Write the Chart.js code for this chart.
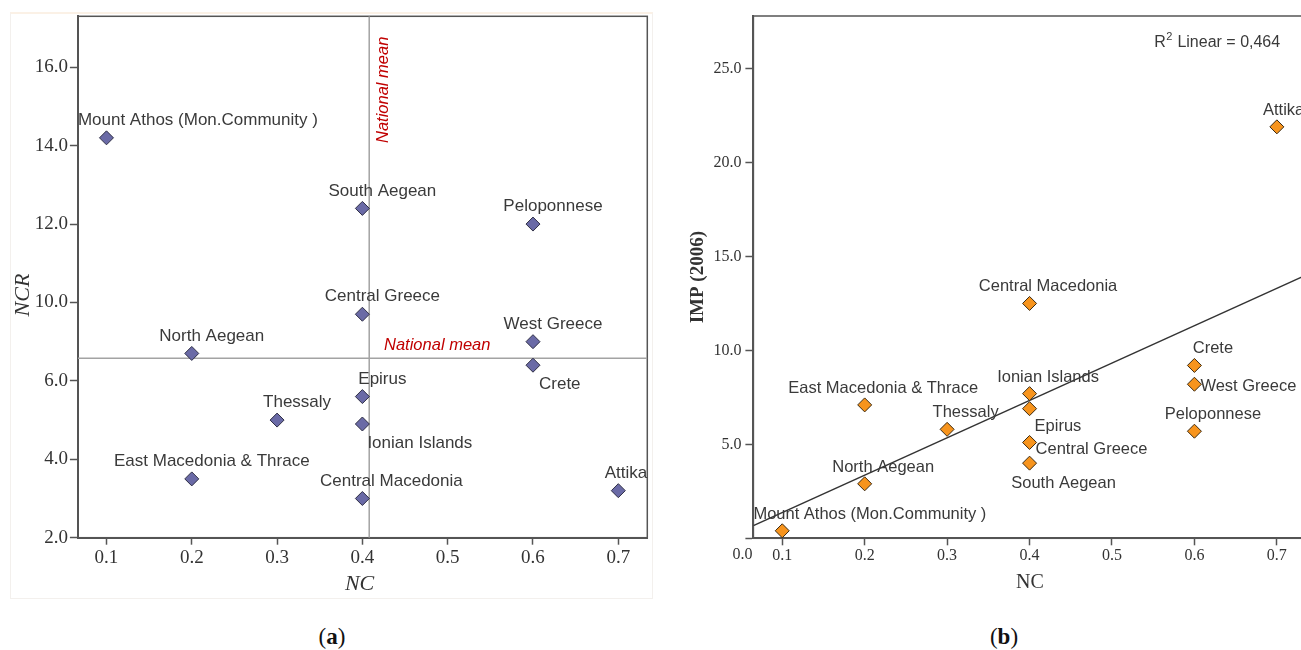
<!DOCTYPE html>
<html>
<head>
<meta charset="utf-8">
<script src="https://cdn.jsdelivr.net/npm/chart.js@4.4.1/dist/chart.umd.min.js"></script>
<style>
html, body { margin: 0; padding: 0; width: 1301px; height: 650px; overflow: hidden; background: #fff; }
#panelA { position: absolute; left: 10px; top: 12px; width: 641px; height: 584px; border: 1px solid #f3f0ed; border-top: 2px solid #fbf1e6; background: #fff; }
#chartA { position: absolute; left: 0; top: 0; }
#chartB { position: absolute; left: 680px; top: 0; }
.cap { position: absolute; top: 624px; font-family: 'Liberation Serif', 'Times New Roman', serif; font-size: 23px; color: #111; transform: translateX(-50%); }
</style>
</head>
<body>
<div id="panelA"></div>
<canvas id="chartA" width="660" height="600"></canvas>
<canvas id="chartB" width="640" height="600"></canvas>
<div class="cap" style="left:332px">(<b>a</b>)</div>
<div class="cap" style="left:1004px">(<b>b</b>)</div>
<script>
// regions, same order in both panels
var regions = ['Mount Athos (Mon.Community )', 'South Aegean', 'Peloponnese', 'Central Greece', 'West Greece',
    'North Aegean', 'Crete', 'Epirus', 'Thessaly', 'Ionian Islands', 'East Macedonia & Thrace',
    'Central Macedonia', 'Attika'];
var nc = [0.1, 0.4, 0.6, 0.4, 0.6, 0.2, 0.6, 0.4, 0.3, 0.4, 0.2, 0.4, 0.7];
// panel (a) NCR, in axis units (the printed axis jumps from 6.0 to 10.0, see yLabelsA)
var ncr = [12.2, 10.4, 10.0, 7.7, 7.0, 6.7, 6.4, 5.6, 5.0, 4.9, 3.5, 3.0, 3.2];
// panel (b) IMP (2006)
var imp = [0.4, 4.0, 5.7, 5.1, 8.2, 2.9, 9.2, 6.9, 5.8, 7.7, 7.1, 12.5, 21.9];
var ncMean = 0.408;
var ncrMean = 6.58;

var xTicks = [0.1, 0.2, 0.3, 0.4, 0.5, 0.6, 0.7];
var yTicksA = [2, 4, 6, 8, 10, 12, 14];
var yLabelsA = ['2.0', '4.0', '6.0', '10.0', '12.0', '14.0', '16.0'];
var yTicksB = [0, 5, 10, 15, 20, 25];

var SANS = "'Liberation Sans', Arial, sans-serif";
var SERIF = "'Liberation Serif', 'Times New Roman', serif";
var AXIS = '#555';

// least squares line for panel (b)
function fit(xs, ys) {
    var n = xs.length, mx = 0, my = 0, sxx = 0, sxy = 0, syy = 0;
    for (var i = 0; i < n; i++) { mx += xs[i] / n; my += ys[i] / n; }
    for (var j = 0; j < n; j++) {
        sxx += (xs[j] - mx) * (xs[j] - mx);
        sxy += (xs[j] - mx) * (ys[j] - my);
        syy += (ys[j] - my) * (ys[j] - my);
    }
    var b = sxy / sxx;
    return { a: my - b * mx, b: b, r2: sxy * sxy / (sxx * syy) };
}

function pairs(xs, ys) {
    return xs.map(function (x, i) { return { x: x, y: ys[i] }; });
}

// label placement: centred above-right of the point unless overridden
function drawLabels(chart, font, base, special) {
    var ctx = chart.ctx, area = chart.chartArea;
    var pts = chart.getDatasetMeta(0).data;
    ctx.save();
    ctx.font = font;
    ctx.fillStyle = '#3a3a3a';
    ctx.textBaseline = 'middle';
    ctx.textAlign = 'left';
    regions.forEach(function (name, i) {
        var o = Object.assign({}, base, special[name] || {});
        var w = ctx.measureText(name).width;
        var left = o.align === 'left' ? pts[i].x + o.dx : pts[i].x + o.dx - w / 2;
        left = Math.max(area.left, Math.min(area.right - w, left));
        ctx.fillText(name, left, pts[i].y + o.dy);
    });
    ctx.restore();
}

function frame(chart) {
    var ctx = chart.ctx, a = chart.chartArea;
    ctx.save();
    ctx.strokeStyle = AXIS;
    ctx.lineWidth = 1.5;
    ctx.strokeRect(a.left, a.top, a.right - a.left, a.bottom - a.top);
    ctx.restore();
}

function text(ctx, str, x, y, font, color, rot) {
    ctx.save();
    ctx.translate(x, y);
    if (rot) ctx.rotate(rot);
    ctx.font = font;
    ctx.fillStyle = color;
    ctx.textAlign = 'center';
    ctx.textBaseline = 'middle';
    ctx.fillText(str, 0, 0);
    ctx.restore();
}

function xScale(min, max, h, tickFont, pad) {
    return {
        type: 'linear', min: min, max: max,
        afterBuildTicks: function (s) { s.ticks = xTicks.map(function (v) { return { value: v }; }); },
        afterFit: function (s) { s.height = h; },
        grid: { drawOnChartArea: false, drawTicks: true, tickLength: 7, tickColor: AXIS, tickWidth: 1.5 },
        border: { color: AXIS, width: 2 },
        ticks: { padding: pad, color: '#333', autoSkip: false, maxRotation: 0, font: { family: SERIF, size: tickFont },
            callback: function (v) { return v.toFixed(1); } }
    };
}

// ---------- panel (a) ----------
var xMinA = 0.0665, xMaxA = 0.734, yMinA = 2, yMaxA = 15.3;

new Chart(document.getElementById('chartA'), {
    type: 'scatter',
    data: {
        datasets: [{
            data: pairs(nc, ncr),
            pointStyle: 'rectRot', pointRadius: 7, pointHoverRadius: 7,
            backgroundColor: '#6a6aa6', borderColor: '#2f2f45', borderWidth: 1, order: 0
        }, {
            data: [{ x: xMinA, y: ncrMean }, { x: xMaxA, y: ncrMean }],
            showLine: true, pointRadius: 0, borderColor: '#a3a3a3', borderWidth: 1.5, order: 1
        }, {
            data: [{ x: ncMean, y: yMinA }, { x: ncMean, y: yMaxA }],
            showLine: true, pointRadius: 0, borderColor: '#a3a3a3', borderWidth: 1.5, order: 1
        }]
    },
    options: {
        responsive: false, animation: false, devicePixelRatio: 1,
        layout: { padding: { left: 0, top: 16.3, right: 12.7, bottom: 0 } },
        plugins: { legend: { display: false }, tooltip: { enabled: false } },
        scales: {
            x: xScale(xMinA, xMaxA, 62.3, 19, 2),
            y: {
                type: 'linear', min: yMinA, max: yMaxA,
                afterBuildTicks: function (s) { s.ticks = yTicksA.map(function (v) { return { value: v }; }); },
                afterFit: function (s) { s.width = 77.9; },
                grid: { drawOnChartArea: false, drawTicks: true, tickLength: 8, tickColor: AXIS, tickWidth: 1.5 },
                border: { color: AXIS, width: 2 },
                ticks: { padding: 2, color: '#333', font: { family: SERIF, size: 19 },
                    callback: function (v, i) { return yLabelsA[i]; } }
            }
        }
    },
    plugins: [{
        id: 'extrasA',
        beforeDatasetsDraw: function (chart) { frame(chart); },
        afterDatasetsDraw: function (chart) {
            drawLabels(chart, '17px ' + SANS, { dx: 20, dy: -17.5, align: 'center' }, {
                'Crete': { dx: 6, dy: 19, align: 'left' },
                'Ionian Islands': { dx: 5, dy: 19, align: 'left' },
                'Central Macedonia': { dx: 29 }
            });
            var ctx = chart.ctx, a = chart.chartArea;
            var vx = chart.scales.x.getPixelForValue(ncMean);
            var hy = chart.scales.y.getPixelForValue(ncrMean);
            var red = 'italic 16.5px ' + SANS;
            text(ctx, 'National mean', vx + 68, hy - 13, red, '#c00000');
            text(ctx, 'National mean', vx + 14, a.top + 73.5, red, '#c00000', -Math.PI / 2);
            text(ctx, 'NC', (a.left + a.right) / 2 - 3, a.bottom + 47, 'italic 22px ' + SERIF, '#333');
            text(ctx, 'NCR', 23, (a.top + a.bottom) / 2 + 18, 'italic 22px ' + SERIF, '#333', -Math.PI / 2);
        }
    }]
});

// ---------- panel (b) ----------
var xMinB = 0.065, xMaxB = 0.7333, yMinB = 0, yMaxB = 27.8;
var line = fit(nc, imp);

new Chart(document.getElementById('chartB'), {
    type: 'scatter',
    data: {
        datasets: [{
            data: pairs(nc, imp),
            pointStyle: 'rectRot', pointRadius: 7, pointHoverRadius: 7,
            backgroundColor: '#f7941d', borderColor: '#3b2a12', borderWidth: 1, order: 0
        }, {
            data: [{ x: xMinB, y: line.a + line.b * xMinB }, { x: xMaxB, y: line.a + line.b * xMaxB }],
            showLine: true, pointRadius: 0, borderColor: '#333', borderWidth: 1.5, order: 1
        }]
    },
    options: {
        responsive: false, animation: false, devicePixelRatio: 1,
        layout: { padding: { left: 0, top: 16, right: 15.7, bottom: 0 } },
        plugins: { legend: { display: false }, tooltip: { enabled: false } },
        scales: {
            x: xScale(xMinB, xMaxB, 61.7, 16, 1),
            y: {
                type: 'linear', min: yMinB, max: yMaxB,
                afterBuildTicks: function (s) { s.ticks = yTicksB.map(function (v) { return { value: v }; }); },
                afterFit: function (s) { s.width = 73.4; },
                grid: { drawOnChartArea: false, drawTicks: true, tickLength: 8, tickColor: AXIS, tickWidth: 1.5 },
                border: { color: AXIS, width: 2 },
                ticks: { padding: 4, color: '#333', font: { family: SERIF, size: 16 },
                    callback: function (v) { return v === 0 ? '' : v.toFixed(1); } }
            }
        }
    },
    plugins: [{
        id: 'extrasB',
        beforeDatasetsDraw: function (chart) { frame(chart); },
        afterDatasetsDraw: function (chart) {
            drawLabels(chart, '16.5px ' + SANS, { dx: 18.5, dy: -16.5, align: 'center' }, {
                'West Greece': { dx: 6, dy: 2, align: 'left' },
                'Epirus': { dx: 5, dy: 17.5, align: 'left' },
                'Central Greece': { dx: 6, dy: 6.5, align: 'left' },
                'South Aegean': { dx: 34, dy: 20.5 }
            });
            var ctx = chart.ctx, a = chart.chartArea;
            // R² label
            var rx = a.right - 150, ry = a.top + 27;
            ctx.save();
            ctx.fillStyle = '#3a3a3a';
            ctx.textBaseline = 'middle';
            ctx.textAlign = 'left';
            ctx.font = '16px ' + SANS;
            ctx.fillText('R', rx, ry);
            var w = ctx.measureText('R').width;
            ctx.font = '11px ' + SANS;
            ctx.fillText('2', rx + w + 0.5, ry - 6);
            var w2 = ctx.measureText('2').width;
            ctx.font = '16px ' + SANS;
            ctx.fillText(' Linear = ' + line.r2.toFixed(3).replace('.', ','), rx + w + w2 + 1, ry);
            ctx.restore();
            text(ctx, '0.0', a.left - 11, a.bottom + 16, '16px ' + SERIF, '#333');
            text(ctx, 'NC', (a.left + a.right) / 2 + 1, a.bottom + 44, '20px ' + SERIF, '#333');
            text(ctx, 'IMP (2006)', a.left - 55.4, (a.top + a.bottom) / 2, 'bold 19px ' + SERIF, '#333', -Math.PI / 2);
        }
    }]
});
</script>
</body>
</html>
